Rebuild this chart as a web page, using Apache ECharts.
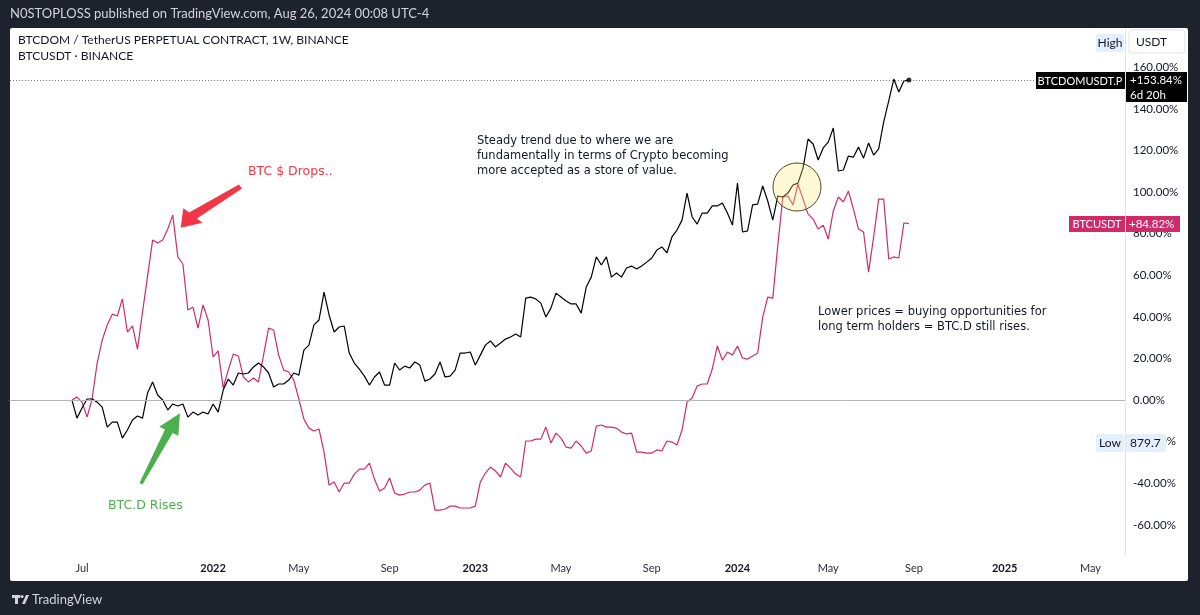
<!DOCTYPE html>
<html>
<head>
<meta charset="utf-8">
<script src="https://cdn.jsdelivr.net/npm/echarts@6/dist/echarts.min.js"></script>
<style>
html,body{margin:0;padding:0;background:#1e222d;}
#c{width:1200px;height:615px;}
</style>
</head>
<body>
<div id="c"></div>
<script>
// ---- data (weekly closes, % change from first bar) ----
const firstWeek = '2021-06-21';
const btcdomPct = [0.0,-8.7,-3.8,0.5,0.5,-1.0,-3.4,-13.0,-10.6,-10.6,
-18.3,-14.4,-9.6,-7.7,-8.7,3.4,8.7,2.4,0.0,-4.8,
-1.9,-2.9,-1.9,-8.2,-5.8,-7.2,-5.8,-6.7,-1.9,-5.8,
4.8,10.1,7.2,13.0,12.5,13.0,15.9,17.8,15.9,13.0,
6.3,7.7,7.7,9.6,13.0,12.0,24.0,26.4,36.1,38.5,
51.9,40.9,32.7,35.1,35.6,22.6,17.8,14.9,11.5,7.2,
11.1,13.5,7.2,7.2,17.8,14.4,16.3,15.4,18.3,16.8,
9.1,10.1,12.5,18.3,11.1,11.5,14.4,22.6,22.6,23.1,
16.8,21.6,26.4,28.4,25.5,27.4,29.3,30.3,31.7,30.3,
49.0,49.5,48.6,46.6,39.9,44.2,51.4,49.5,47.6,46.2,
46.2,41.8,54.3,59.1,68.8,64.9,68.8,59.1,61.1,59.1,
63.5,64.4,63.0,64.4,66.3,68.3,72.1,73.6,70.7,78.4,
81.7,86.5,99.5,88.0,84.6,89.9,89.9,93.3,93.3,94.7,
89.9,84.1,104.3,80.8,81.3,93.8,94.2,102.9,95.7,86.5,
98.1,97.6,99.5,103.4,104.3,111.5,125.5,123.1,115.4,121.2,
124.0,130.8,110.1,110.6,117.3,116.8,121.6,116.3,123.6,117.8,
120.7,133.7,143.8,154.3,148.1,153.4,153.84];
const btcusdtPct = [0.0,1.4,-1.0,-8.2,0.5,17.8,28.8,36.1,41.3,40.4,
48.6,32.7,35.6,24.5,42.3,59.6,76.9,75.5,76.9,82.2,
88.9,68.8,65.4,43.3,44.7,34.6,45.7,38.5,20.7,23.6,
5.8,14.4,22.1,21.2,11.1,8.7,10.6,8.7,21.6,34.6,
33.7,21.6,14.4,13.5,9.6,0.5,-9.1,-13.5,-14.9,-13.9,
-25.0,-40.9,-39.4,-44.2,-39.9,-39.9,-35.6,-33.2,-33.2,-30.3,
-38.0,-43.8,-42.3,-37.5,-44.7,-45.7,-45.2,-44.2,-44.2,-43.3,
-40.9,-39.9,-52.9,-52.9,-52.4,-51.0,-51.0,-51.9,-51.9,-51.9,
-51.0,-39.4,-35.1,-32.2,-34.1,-37.0,-30.3,-32.7,-35.6,-37.0,
-19.7,-19.7,-18.8,-18.8,-13.0,-20.7,-15.9,-18.3,-22.6,-23.1,
-19.7,-22.1,-25.5,-24.5,-12.5,-12.0,-13.0,-13.0,-13.5,-15.4,
-16.3,-15.9,-25.0,-25.0,-25.5,-25.5,-24.0,-24.5,-19.7,-20.2,
-21.6,-14.4,-1.0,1.0,6.7,7.7,7.7,14.9,26.0,19.2,
23.1,21.6,26.0,20.2,19.7,21.2,22.6,39.9,49.5,49.0,
74.5,97.6,98.1,93.8,103.8,96.6,89.4,87.0,82.2,84.1,
77.4,90.9,97.6,95.2,100.5,91.8,82.2,80.8,61.5,78.4,
96.6,96.6,67.8,68.8,68.3,85.1,84.82];
const xTickDates = ['2021-07-05','2022-01-03','2022-05-02','2022-09-05','2023-01-02','2023-05-01','2023-09-04','2024-01-01','2024-05-06','2024-09-02','2025-01-06','2025-05-05'];
const xTickLabels = ['Jul','2022','May','Sep','2023','May','Sep','2024','May','Sep','2025','May'];
const yTickValues = [-60,-40,-20,0,20,40,60,80,100,120,140,160];
const xRange = ['2021-03-27','2025-06-22'];
const yRange = [-74.5, 177.9];

// ---- build ----
const DAY = 86400000;
const t0 = Date.parse(firstWeek);
const weekTs = btcdomPct.map((_, i) => t0 + i * 7 * DAY);
const domData = btcdomPct.map((v, i) => [weekTs[i], v]);
const usdtData = btcusdtPct.map((v, i) => [weekTs[i], v]);
const xTickTs = xTickDates.map(d => Date.parse(d));
const lastDom = btcdomPct[btcdomPct.length - 1];
const lastUsdt = btcusdtPct[btcusdtPct.length - 1];

const FONT = 'Lato, "Noto Sans", sans-serif';
const ANN = '"DejaVu Sans", sans-serif';
const PINK = '#d12a6b';
const INK = '#131722';

const chart = echarts.init(document.getElementById('c'), null, {renderer: 'canvas'});
const option = {
  backgroundColor: '#1e222d',
  animation: false,
  grid: {left: 10, right: 75, top: 30, bottom: 60},
  xAxis: {
    type: 'value',
    min: Date.parse(xRange[0]), max: Date.parse(xRange[1]),
    axisLine: {show: true, lineStyle: {color: '#e0e3eb', width: 1}},
    axisTick: {show: false},
    splitLine: {show: false},
    axisLabel: {
      customValues: xTickTs,
      margin: 8,
      color: '#2a2e39', fontSize: 11, fontFamily: FONT,
      formatter: function (v) {
        const i = xTickTs.indexOf(v);
        const s = i >= 0 ? xTickLabels[i] : '';
        return /^\d{4}$/.test(s) ? '{b|' + s + '}' : s;
      },
      rich: {b: {fontWeight: 'bold', color: INK, fontSize: 11, fontFamily: FONT}}
    }
  },
  yAxis: {
    type: 'value', position: 'right',
    min: yRange[0], max: yRange[1],
    axisLine: {show: true, lineStyle: {color: '#e0e3eb', width: 1}},
    axisTick: {show: false},
    splitLine: {show: false},
    axisLabel: {
      customValues: yTickValues,
      margin: 8, align: 'left',
      color: INK, fontSize: 11.5, fontFamily: FONT,
      formatter: v => v.toFixed(2) + '%'
    }
  },
  series: [
    {
      name: 'BTCUSDT', type: 'line', data: usdtData, showSymbol: false,
      lineStyle: {color: PINK, width: 1.2}, z: 3,
      markLine: {
        silent: true, symbol: 'none', label: {show: false},
        lineStyle: {color: '#b2b5be', type: 'solid', width: 1},
        data: [{yAxis: 0}]
      }
    },
    {
      name: 'BTCDOMUSDT.P', type: 'line', data: domData, showSymbol: false,
      lineStyle: {color: '#000000', width: 1.2}, z: 4,
      markLine: {
        silent: true, symbol: 'none', label: {show: false},
        lineStyle: {color: '#787b86', type: [1, 2], width: 1},
        data: [{yAxis: lastDom}]
      }
    },
    {
      type: 'scatter', data: [domData[domData.length - 1]],
      symbolSize: 5, itemStyle: {color: '#000'}, z: 5, silent: true
    }
  ],
  graphic: [
    // white panel
    {type: 'rect', z: -10, shape: {x: 10, y: 28, width: 1178, height: 553, r: 2}, style: {fill: '#ffffff'}, silent: true},
    // top published text
    {type: 'text', left: 10, top: 7, style: {text: 'N0STOPLOSS published on TradingView.com, Aug 26, 2024 00:08 UTC-4', fill: '#d1d4dc', font: '13px ' + FONT}},
    {type: 'text', left: 18, top: 34, style: {text: 'BTCDOM / TetherUS PERPETUAL CONTRACT, 1W, BINANCE', fill: INK, font: '12px ' + FONT}},
    {type: 'text', left: 18, top: 50, style: {text: 'BTCUSDT · BINANCE', fill: INK, font: '12px ' + FONT}},
    // High / USDT
    {type: 'rect', shape: {x: 1096, y: 34, width: 28, height: 18, r: 2}, style: {fill: '#e3effd'}},
    {type: 'text', x: 1110, y: 43, style: {text: 'High', fill: INK, font: '12px ' + FONT, align: 'center', verticalAlign: 'middle'}},
    {type: 'rect', shape: {x: 1129, y: 30, width: 56, height: 23, r: 3}, style: {fill: '#fff', stroke: '#e0e3eb', lineWidth: 1}},
    {type: 'text', x: 1136, y: 42, style: {text: 'USDT', fill: INK, font: '12px ' + FONT, verticalAlign: 'middle'}},
    // BTCDOM labels
    {type: 'rect', z: 10, shape: {x: 1036, y: 72, width: 89, height: 17}, style: {fill: '#000'}},
    {type: 'text', z: 11, x: 1080, y: 81, style: {text: 'BTCDOMUSDT.P', fill: '#fff', font: '11px ' + FONT, align: 'center', verticalAlign: 'middle'}},
    {type: 'rect', z: 10, shape: {x: 1126, y: 72, width: 61, height: 30}, style: {fill: '#000'}},
    {type: 'text', z: 11, x: 1130, y: 80, style: {text: '+' + lastDom.toFixed(2) + '%', fill: '#fff', font: '11.5px ' + FONT, verticalAlign: 'middle'}},
    {type: 'text', z: 11, x: 1130, y: 95, style: {text: '6d 20h', fill: '#fff', font: '11.5px ' + FONT, verticalAlign: 'middle'}},
    // BTCUSDT labels
    {type: 'rect', z: 10, shape: {x: 1069, y: 216, width: 56, height: 16}, style: {fill: PINK}},
    {type: 'text', z: 11, x: 1097, y: 224, style: {text: 'BTCUSDT', fill: '#fff', font: '11px ' + FONT, align: 'center', verticalAlign: 'middle'}},
    {type: 'rect', z: 10, shape: {x: 1126, y: 216, width: 54, height: 16}, style: {fill: PINK}},
    {type: 'text', z: 11, x: 1129, y: 224, style: {text: '+' + lastUsdt.toFixed(2) + '%', fill: '#fff', font: '11.5px ' + FONT, verticalAlign: 'middle'}},
    // Low labels
    {type: 'rect', z: 10, shape: {x: 1096, y: 434, width: 28, height: 18, r: 2}, style: {fill: '#e3effd'}},
    {type: 'text', z: 11, x: 1110, y: 443, style: {text: 'Low', fill: INK, font: '12px ' + FONT, align: 'center', verticalAlign: 'middle'}},
    {type: 'rect', z: 10, shape: {x: 1126, y: 434, width: 40, height: 18, r: 2}, style: {fill: '#e3effd'}},
    {type: 'text', z: 11, x: 1130, y: 443, style: {text: '879.7', fill: INK, font: '12px ' + FONT, verticalAlign: 'middle'}},
    // annotations
    {type: 'text', z: 12, x: 248, y: 172, style: {text: 'BTC $ Drops..', fill: '#f23645', font: '12.5px ' + ANN, verticalAlign: 'middle'}},
    {type: 'polygon', z: 12, shape: {points: [[239, 184.5], [189.1, 212.6], [183.3, 208.3], [180.7, 227.7], [202.7, 222.7], [196.9, 218.4], [242, 188.5]]}, style: {fill: '#f23645'}},
    {type: 'text', z: 12, x: 108, y: 506, style: {text: 'BTC.D Rises', fill: '#4caf50', font: '12.5px ' + ANN, verticalAlign: 'middle'}},
    {type: 'polygon', z: 12, shape: {points: [[180, 413.3], [159.3, 426.7], [165, 429.4], [139.5, 483], [142.5, 484.5], [172.6, 433], [178.3, 435.7]]}, style: {fill: '#4caf50'}},
    {type: 'text', z: 12, x: 477, y: 134, style: {text: 'Steady trend due to where we are\nfundamentally in terms of Crypto becoming\nmore accepted as a store of value.', fill: INK, font: '11.5px ' + ANN, lineHeight: 15}},
    {type: 'text', z: 12, x: 818, y: 305, style: {text: 'Lower prices = buying opportunities for\nlong term holders = BTC.D still rises.', fill: INK, font: '11.5px ' + ANN, lineHeight: 15}},
    {type: 'circle', z: 12, shape: {cx: 797, cy: 187, r: 24}, style: {fill: 'rgba(255,236,120,0.3)', stroke: '#4a4a2a', lineWidth: 1}},
    // bottom logo
    {type: 'rect', shape: {x: 12, y: 595, width: 8, height: 3}, style: {fill: '#d1d4dc'}},
    {type: 'rect', shape: {x: 15, y: 595, width: 3, height: 9}, style: {fill: '#d1d4dc'}},
    {type: 'circle', shape: {cx: 22, cy: 596.5, r: 1.6}, style: {fill: '#d1d4dc'}},
    {type: 'polygon', shape: {points: [[22, 604], [26, 595], [29, 595], [25, 604]]}, style: {fill: '#d1d4dc'}},
    {type: 'text', x: 32, y: 600, style: {text: 'TradingView', fill: '#d1d4dc', font: '13px ' + FONT, verticalAlign: 'middle'}}
  ]
};
chart.setOption(option);
</script>
</body>
</html>
